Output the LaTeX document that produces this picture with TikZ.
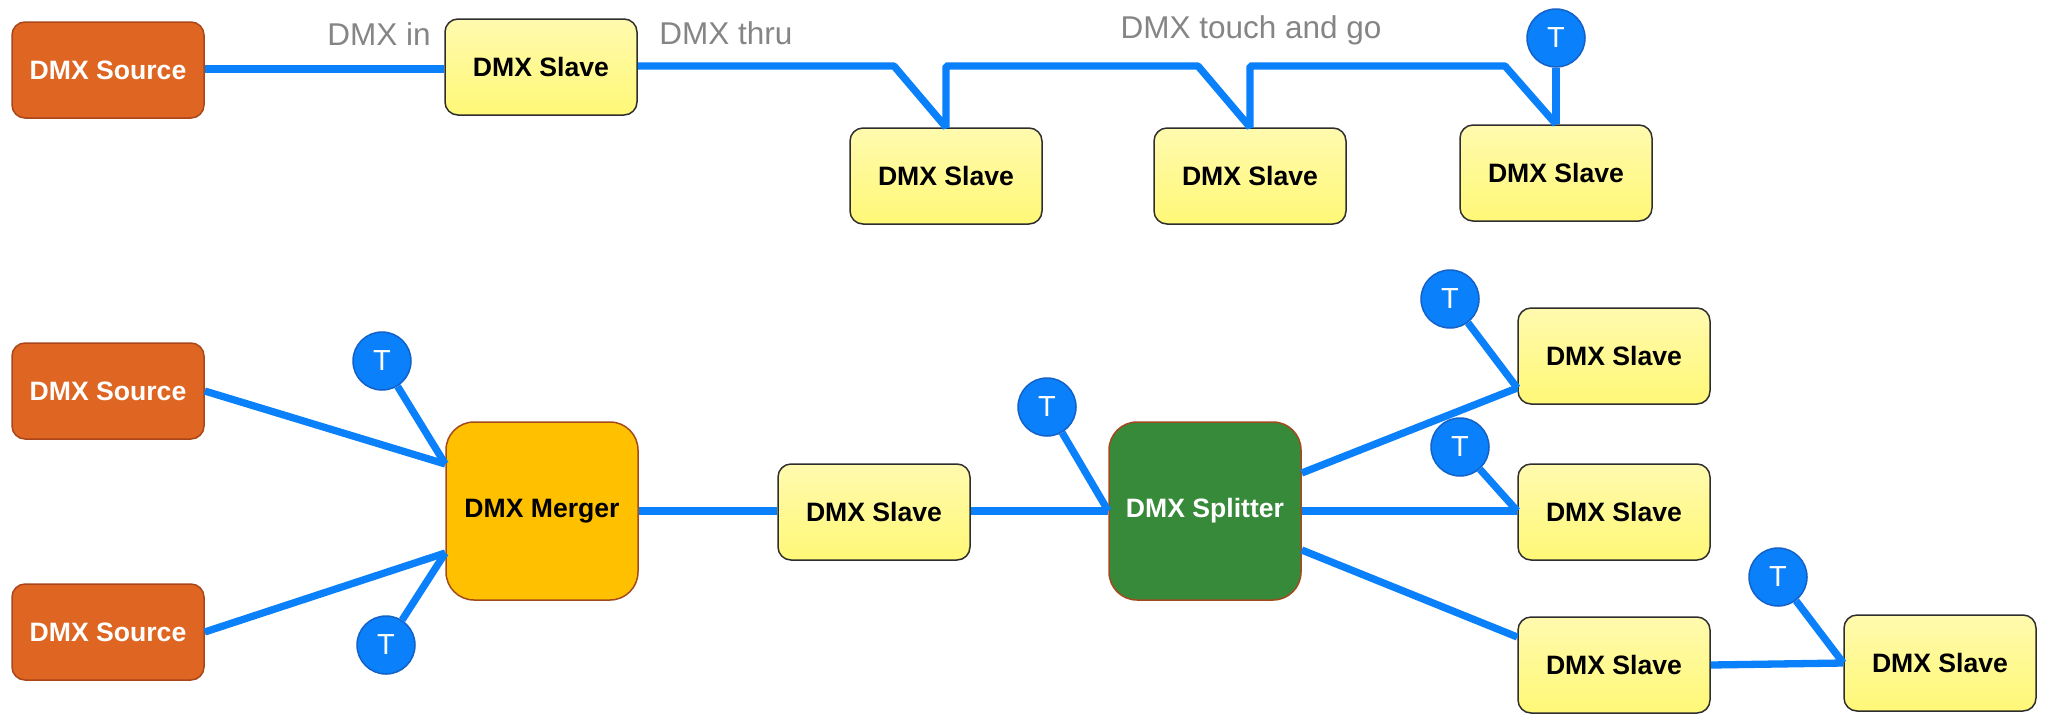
\documentclass[tikz,border=0pt]{standalone}
\usepackage{fontspec}
\setmainfont{Liberation Sans}
\usetikzlibrary{calc}

\definecolor{wire}{HTML}{0A80FA}
\definecolor{termedge}{HTML}{1461C8}
\definecolor{srcfill}{HTML}{DE6522}
\definecolor{srcedge}{HTML}{A9461A}
\definecolor{slavetop}{HTML}{FFFAAE}
\definecolor{slavebot}{HTML}{FFF877}
\definecolor{slaveedge}{HTML}{2E2E2E}
\definecolor{mergefill}{HTML}{FFC000}
\definecolor{splitfill}{HTML}{368A3A}
\definecolor{hubedge}{HTML}{A34A1E}
\definecolor{labelgray}{HTML}{858585}

\tikzset{
  box/.style={rectangle, rounded corners=13pt, minimum width=192pt,
    minimum height=96pt, inner sep=0pt, line width=1.5pt,
    font=\fontsize{26.6}{30}\selectfont\bfseries},
  slavebox/.style={box, draw=slaveedge, top color=slavetop, bottom color=slavebot},
  sourcebox/.style={box, draw=srcedge, fill=srcfill, text=white},
  hubbox/.style={box, minimum height=178pt, rounded corners=28pt, draw=hubedge},
  mergerbox/.style={hubbox, fill=mergefill},
  splitbox/.style={hubbox, fill=splitfill, text=white},
  term/.style={circle, minimum size=58pt, inner sep=0pt, fill=wire,
    draw=termedge, line width=1.5pt, text=white,
    font=\fontsize{29}{30}\selectfont},
  cable/.style={draw=wire, line width=7.3pt, line join=bevel},
  lbl/.style={text=labelgray, font=\fontsize{31.5}{34}\selectfont, inner sep=0pt}
}

\begin{document}
\begin{tikzpicture}[x=1pt, y=-1pt]
  \useasboundingbox (0,0) rectangle (2050,713);

  % ---- daisy chain (top row) ----
  \node[sourcebox] (src1) at (108,70) {DMX Source};
  \node[slavebox]  (s1)   at (541,67) {DMX Slave};
  \node[slavebox]  (s2)   at (946,176) {DMX Slave};
  \node[slavebox]  (s3)   at (1250,176) {DMX Slave};
  \node[slavebox]  (s4)   at (1556,173) {DMX Slave};
  \node[term]      (t1)   at (1556,38) {T};

  \node[lbl] (lin)   at (379,34) {DMX in};
  \node[lbl] (lthru) at (726,33) {DMX thru};
  \node[lbl] (ltg)   at (1251,30) {DMX touch and go};

  \coordinate (s1in)  at (s1.west |- 0,69);
  \coordinate (s1out) at (s1.east |- 0,66);
  \coordinate (k1) at (894,66);
  \coordinate (k2) at (1198,66);
  \coordinate (k3) at (1505,66);

  \draw[cable] (src1.east |- s1in) -- (s1in);
  \draw[cable] (s1out) -- (k1) -- (s2.north) -- (s2.north |- k1)
    -- (k2) -- (s3.north) -- (s3.north |- k2)
    -- (k3) -- (s4.north);
  \draw[cable] (s4.north) -- (t1.south);

  % ---- merger / splitter network (bottom) ----
  \node[sourcebox] (src2) at (108,391) {DMX Source};
  \node[sourcebox] (src3) at (108,632) {DMX Source};
  \node[mergerbox] (mrg)  at (542,511) {DMX Merger};
  \node[slavebox]  (sm)   at (874,512) {DMX Slave};
  \node[splitbox]  (spl)  at (1205,511) {DMX Splitter};
  \node[slavebox]  (o1)   at (1614,356) {DMX Slave};
  \node[slavebox]  (o2)   at (1614,512) {DMX Slave};
  \node[slavebox]  (o3)   at (1614,665) {DMX Slave};
  \node[slavebox]  (o4)   at (1940,663) {DMX Slave};

  \node[term] (tm1) at (382,361) {T};
  \node[term] (tm2) at (386,645) {T};
  \node[term] (tsp) at (1047,407) {T};
  \node[term] (to1) at (1450,299) {T};
  \node[term] (to2) at (1460,447) {T};
  \node[term] (to3) at (1778,577) {T};

  \coordinate (min1) at (mrg.west |- 0,464);
  \coordinate (min2) at (mrg.west |- 0,553);
  \coordinate (sout1) at (spl.east |- 0,473);
  \coordinate (sout3) at (spl.east |- 0,550);
  \coordinate (o1in) at (o1.west |- 0,388);
  \coordinate (o3in) at (o3.west |- 0,637);

  \draw[cable] (src2.east) -- (min1);
  \draw[cable] (tm1) -- (min1);
  \draw[cable] (src3.east) -- (min2);
  \draw[cable] (tm2) -- (min2);

  \draw[cable] (mrg.east) -- (sm.west |- mrg.east);
  \draw[cable] (sm.east |- spl.west) -- (spl.west);
  \draw[cable] (tsp) -- (spl.west);

  \draw[cable] (sout1) -- (o1in);
  \draw[cable] (to1) -- (o1in);
  \draw[cable] (spl.east) -- (o2.west |- spl.east);
  \draw[cable] (to2) -- (o2.west |- spl.east);
  \draw[cable] (sout3) -- (o3in);
  \draw[cable] (o3.east) -- (o4.west);
  \draw[cable] (to3) -- (o4.west);
\end{tikzpicture}
\end{document}
